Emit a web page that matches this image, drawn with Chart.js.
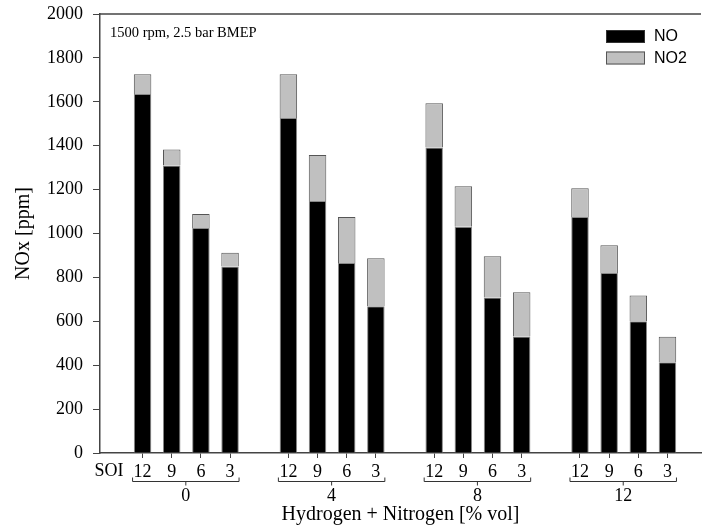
<!DOCTYPE html>
<html lang="en">
<head>
<meta charset="UTF-8">
<title>NOx vs Hydrogen + Nitrogen</title>
<script src="https://cdn.jsdelivr.net/npm/chart.js"></script>
<style>
    html, body { margin: 0; padding: 0; background: #fff; }
    #wrap { width: 702px; height: 530px; }
</style>
</head>
<body>
<div id="wrap"><canvas id="chart" width="702" height="530"></canvas></div>
<script>
// dilution levels (groups) and injection timings inside each group
const groups = ['0', '4', '8', '12'];
const soi = ['12', '9', '6', '3'];
// values, ppm, group by group
const noValues  = [1635, 1310, 1025, 850,  1526, 1148, 866, 668,  1392, 1031, 708, 531,  1075, 820, 600, 413];
const no2Values = [90, 73, 64, 62,  199, 210, 209, 219,  201, 184, 188, 201,  131, 126, 117, 117];
const yTicks = [0, 200, 400, 600, 800, 1000, 1200, 1400, 1600, 1800, 2000];

const serif = 'Liberation Serif, Times New Roman, serif';
const sans = 'Liberation Sans, Arial, sans-serif';

// slot on the x axis: one empty slot between groups
const slots = [];
groups.forEach((g, gi) => soi.forEach((s, si) => slots.push(gi * (soi.length + 1) + si)));

const noData = slots.map((x, i) => ({x: x, y: noValues[i]}));
const no2Data = slots.map((x, i) => ({x: x, y: no2Values[i]}));

// brackets, group labels, SOI, frame, note and legend
const extras = {
    id: 'extras',
    afterDraw(chart) {
        const {ctx, chartArea} = chart;
        const xs = chart.scales.x;
        ctx.save();
        // top frame line
        ctx.strokeStyle = '#444';
        ctx.lineWidth = 1.5;
        ctx.beginPath();
        ctx.moveTo(chartArea.left, chartArea.top);
        ctx.lineTo(chartArea.right, chartArea.top);
        ctx.stroke();

        // note
        ctx.fillStyle = '#000';
        ctx.font = '14.5px ' + serif;
        ctx.textAlign = 'left';
        ctx.textBaseline = 'middle';
        ctx.fillText('1500 rpm, 2.5 bar BMEP', chartArea.left + 10, chartArea.top + 19);

        // SOI label
        ctx.font = '18px ' + serif;
        ctx.textAlign = 'right';
        ctx.fillText('SOI', xs.getPixelForValue(slots[0]) - 19, 471);

        // brackets + group labels
        ctx.strokeStyle = '#333';
        ctx.lineWidth = 1;
        groups.forEach((g, gi) => {
            const a = xs.getPixelForValue(slots[gi * soi.length]) - 10;
            const b = xs.getPixelForValue(slots[gi * soi.length + soi.length - 1]) + 9;
            const m = (a + b) / 2;
            const y = 481.5;
            ctx.beginPath();
            ctx.moveTo(a, y - 4); ctx.lineTo(a, y); ctx.lineTo(b, y); ctx.lineTo(b, y - 4);
            ctx.moveTo(m, y); ctx.lineTo(m, y + 4);
            ctx.stroke();
            ctx.textAlign = 'center';
            ctx.font = '18px ' + serif;
            ctx.fillText(g, m, 496);
        });

        // legend
        const items = chart.data.datasets;
        ctx.font = '16px ' + sans;
        ctx.textAlign = 'left';
        items.forEach((ds, i) => {
            const y = 30 + i * 21.5;
            ctx.fillStyle = ds.backgroundColor;
            ctx.fillRect(606, y, 39, 13);
            ctx.strokeStyle = ds.legendBorder;
            ctx.lineWidth = 1;
            ctx.strokeRect(606.5, y + 0.5, 38, 12);
            ctx.fillStyle = '#000';
            ctx.fillText(ds.label, 654, y + 7);
        });
        ctx.restore();
    }
};

new Chart(document.getElementById('chart'), {
    type: 'bar',
    data: {
        datasets: [
            {
                label: 'NO',
                data: noData,
                backgroundColor: '#000',
                borderColor: '#888',
                legendBorder: '#333',
                borderWidth: 1,
                stack: 'nox'
            },
            {
                label: 'NO2',
                data: no2Data,
                backgroundColor: '#c0c0c0',
                borderColor: '#555',
                legendBorder: '#555',
                borderWidth: 1,
                stack: 'nox'
            }
        ]
    },
    options: {
        responsive: false,
        animation: false,
        events: [],
        categoryPercentage: 1,
        barPercentage: 0.6,
        layout: { padding: { top: 14, right: 1, left: 0, bottom: 0 } },
        plugins: {
            legend: { display: false },
            tooltip: { enabled: false }
        },
        scales: {
            x: {
                type: 'linear',
                stacked: true,
                offset: false,
                min: -1.46,
                max: 19.15,
                afterFit(scale) { scale.height = 77; },
                afterBuildTicks(scale) { scale.ticks = slots.map(v => ({value: v})); },
                ticks: {
                    autoSkip: false,
                    maxRotation: 0,
                    padding: 3,
                    color: '#000',
                    font: { family: serif, size: 18 },
                    callback: (v) => soi[slots.indexOf(v) % soi.length]
                },
                grid: { drawOnChartArea: false, tickLength: 5, color: '#444', offset: false },
                border: { color: '#444', width: 1.5 },
                title: {
                    display: true,
                    text: 'Hydrogen + Nitrogen [% vol]',
                    color: '#000',
                    font: { family: serif, size: 20 },
                    padding: { top: 0, bottom: 3 }
                }
            },
            y: {
                stacked: true,
                min: 0,
                max: 2000,
                afterFit(scale) {
                    scale.width = 100;
                    scale.paddingTop = 0;
                    scale.paddingBottom = 0;
                },
                afterBuildTicks(scale) { scale.ticks = yTicks.map(v => ({value: v})); },
                ticks: {
                    padding: 10,
                    color: '#000',
                    font: { family: serif, size: 18 },
                    callback: (v) => String(v)
                },
                grid: { drawOnChartArea: false, tickLength: 7, color: '#444' },
                border: { color: '#444', width: 1.5 },
                title: {
                    display: true,
                    text: 'NOx [ppm]',
                    color: '#000',
                    font: { family: serif, size: 20 },
                    padding: { top: 12, bottom: 0 }
                }
            }
        }
    },
    plugins: [extras]
});
</script>
</body>
</html>
